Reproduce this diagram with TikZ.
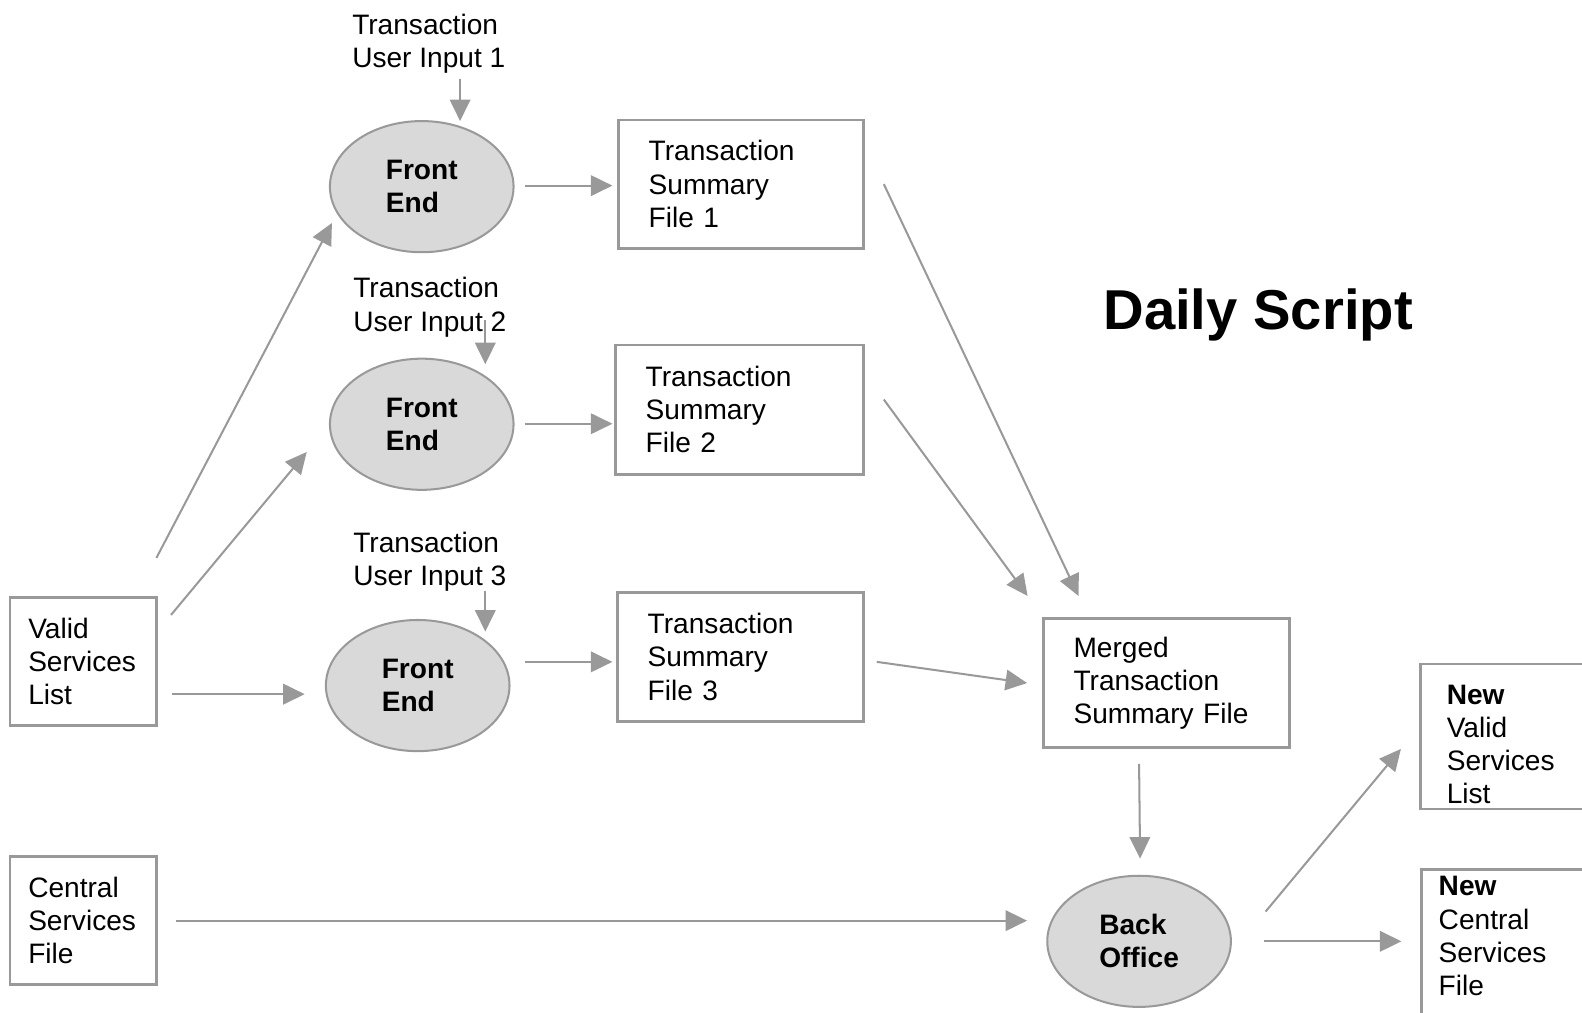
\documentclass[tikz,border=0pt]{standalone}
\usepackage{fontspec}
\setmainfont{Liberation Sans}
\usepackage{xcolor}
\usepackage{tikz}
\usetikzlibrary{arrows.meta,shapes.geometric}

\definecolor{linegray}{HTML}{999999}
\definecolor{fillgray}{HTML}{D9D9D9}
\newlength{\unitpx}
\setlength{\unitpx}{0.02018cm}
\newcommand{\diagfont}{\fontsize{16}{18.9}\selectfont}

\begin{document}
\begin{tikzpicture}[
    x=0.02018cm, y=-0.02018cm,
    process/.style={ellipse,draw=linegray,fill=fillgray,line width=1.15pt,minimum width=182*\unitpx,minimum height=130*\unitpx,inner sep=0pt,outer sep=0pt,align=left,font=\diagfont\bfseries},
    file/.style 2 args={rectangle,draw=linegray,line width=1.5pt,outer sep=0pt,inner ysep=0pt,align=left,font=\diagfont,text width=#1*\unitpx,inner xsep=#2*\unitpx},
    input/.style={align=left,inner sep=0pt,font=\diagfont},
    arrow/.style={draw=linegray,line width=1.15pt,-{Triangle[length=0.43cm,width=0.41cm]}}
]
\path[use as bounding box,clip] (0,0) rectangle (1568,1004);
\node[input] (in1) at (425,43.5) {Transaction\\User Input 1};
\node[input] (in2) at (426,304.5) {Transaction\\User Input 2};
\node[input] (in3) at (426,556.5) {Transaction\\User Input 3};
\node[process] (fe1) at (418,185) {Front\\End};
\node[process] (fe2) at (418,420.5) {Front\\End};
\node[process] (fe3) at (414,679.5) {Front\\End};
\node[process] (bo) at (1129,933) {Back\\Office};
\node[file={183}{30},minimum height=127*\unitpx] (tsf1) at (734.5,182.5) {Transaction\\Summary\\File 1};
\node[file={186}{30},minimum height=128*\unitpx] (tsf2) at (733,406) {Transaction\\Summary\\File 2};
\node[file={184}{30},minimum height=128*\unitpx] (tsf3) at (734,651) {Transaction\\Summary\\File 3};
\node[file={184}{30},minimum height=128*\unitpx] (merged) at (1156,677) {Merged\\Transaction\\Summary File};
\node[file={109}{18},minimum height=127*\unitpx] (vsl) at (82.5,655.5) {Valid\\Services\\List};
\node[file={109}{18},minimum height=127*\unitpx] (csf) at (82.5,912.5) {Central\\Services\\File};
\node[file={160}{26},anchor=north west,text height=40*\unitpx,text depth=104*\unitpx] (nvsl) at (1408,658) {\textbf{New}\\Valid\\Services\\List};
\node[file={170}{17},anchor=north west,text height=26*\unitpx,text depth=160*\unitpx] (ncsf) at (1409,862) {\textbf{New}\\Central\\Services\\File};
\node[font=\fontsize{32}{38}\selectfont\bfseries,anchor=base,inner sep=0pt] (title) at (1247,327) {Daily Script};
\draw[arrow] ([shift={(31,5)}]in1.south) -- ([shift={(38,0)}]fe1.north);
\draw[arrow] ([shift={(55,-17)}]in2.south) -- ([shift={(63,5.5)}]fe2.north);
\draw[arrow] ([shift={(55,-1)}]in3.south) -- ([shift={(67,11.5)}]fe3.north);
\draw[arrow] ([shift={(11,-1)}]fe1.east) -- ([shift={(-6,1.5)}]tsf1.west);
\draw[arrow] ([shift={(11,-0.5)}]fe2.east) -- ([shift={(-3,14)}]tsf2.west);
\draw[arrow] ([shift={(15,-23.5)}]fe3.east) -- ([shift={(-5,5)}]tsf3.west);
\draw[arrow] ([shift={(0,-39)}]vsl.north east) -- ([shift={(2,36)}]fe1.west);
\draw[arrow] ([shift={(14.5,17.5)}]vsl.north east) -- ([shift={(-23,27.5)}]fe2.west);
\draw[arrow] ([shift={(15,32.5)}]vsl.east) -- ([shift={(-21,8.5)}]fe3.west);
\draw[arrow] ([shift={(20,0)}]tsf1.east) -- ([shift={(-87,-22.3)}]merged.north);
\draw[arrow] ([shift={(20,-10)}]tsf2.east) -- ([shift={(-15.5,-22.3)}]merged.north west);
\draw[arrow] ([shift={(13,5)}]tsf3.east) -- ([shift={(-16,0)}]merged.west);
\draw[arrow] ([shift={(-27,16)}]merged.south) -- ([shift={(1,-17)}]bo.north);
\draw[arrow] ([shift={(19,0)}]csf.east) -- ([shift={(-20,-20.5)}]bo.west);
\draw[arrow] ([shift={(34.4,-29.5)}]bo.east) -- ([shift={(-19.5,-59.7)}]nvsl.south west);
\draw[arrow] ([shift={(33,0)}]bo.east) -- ([shift={(-20,71)}]ncsf.north west);
\end{tikzpicture}
\end{document}
